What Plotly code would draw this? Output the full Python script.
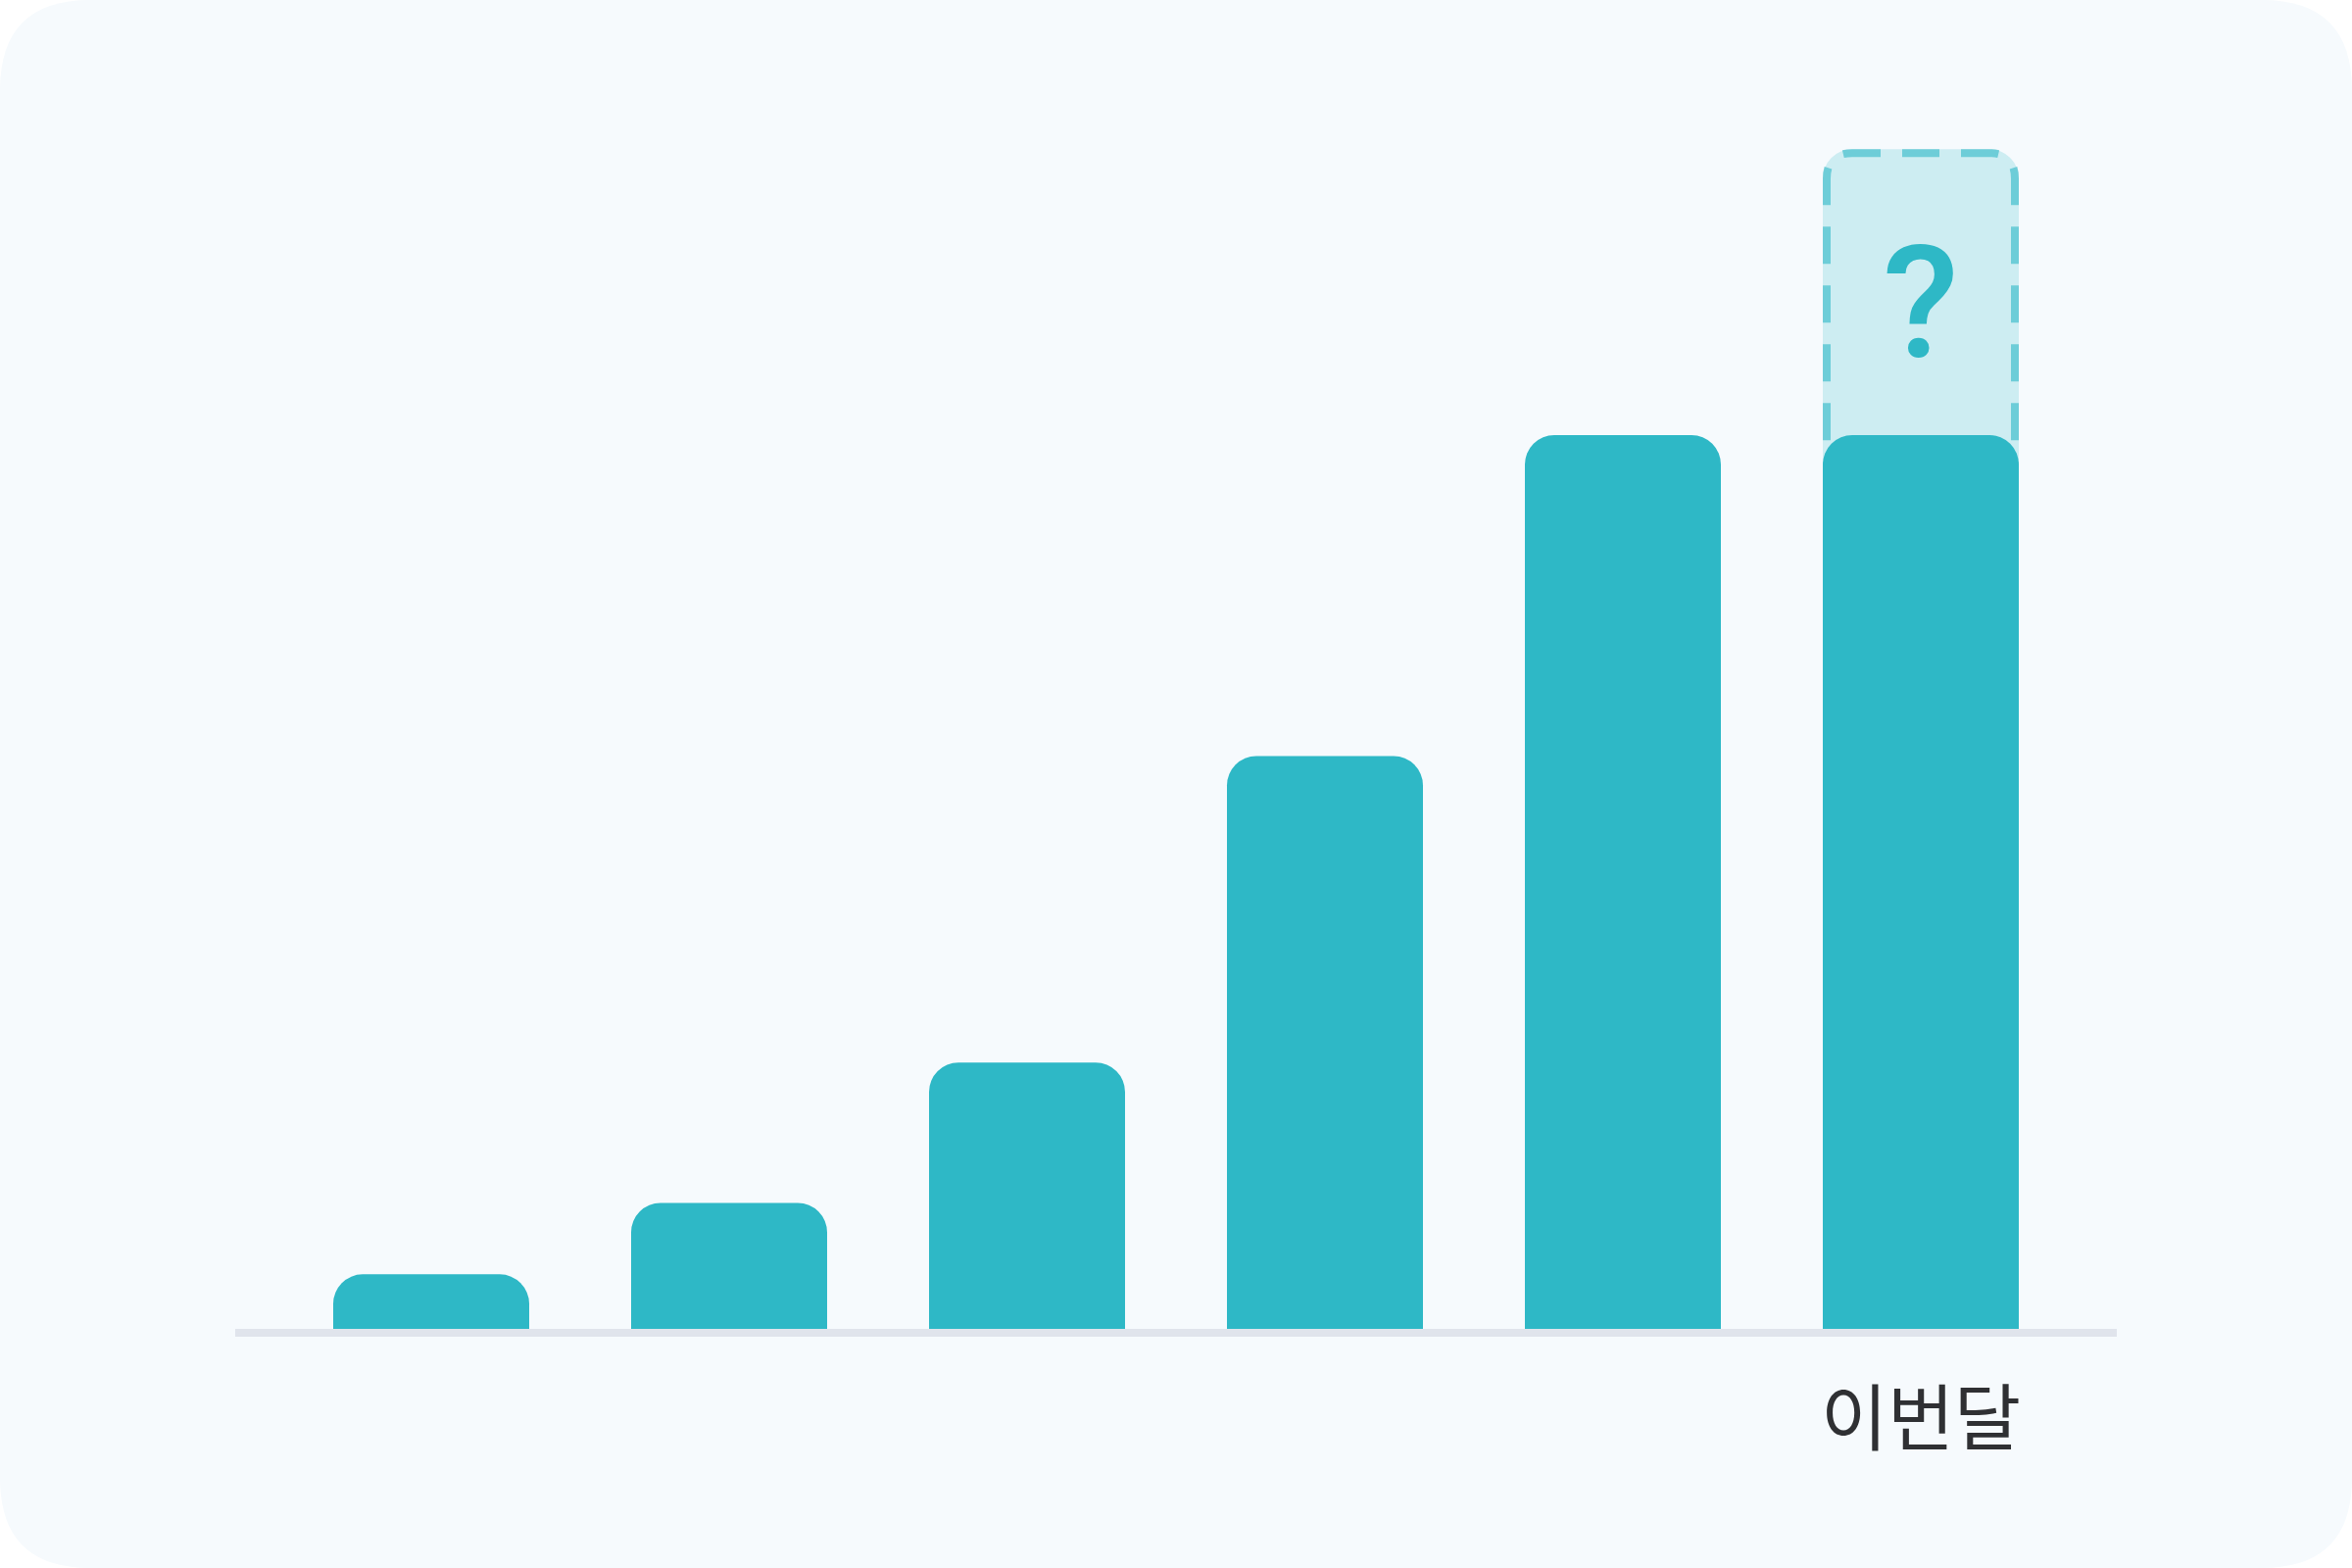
import plotly.graph_objects as go

# monthly values, last bar = this month so far, projected = the "?" target
months = ["", "", "", "", "", "이번달"]
values = [6.1, 14.1, 29.8, 64.1, 100, 100]
projected = 132

W, H = 2400, 1600
PLOT_L, PLOT_R = 240, 2160
PLOT_B, BASE_PX, PLOT_T = 1372, 1356, 100
FIRST_C, LAST_C = 440, 1960      # pixel centres of first / last bar
PX_PER_UNIT = 9.12
BAR_PX = 200
CARD_R = 92

BAR_COLOR = "#2EB8C6"
GHOST_FILL = "rgba(46,184,198,0.2)"
GHOST_LINE = "#7DD2DC"
CARD = "#F6FAFD"
AXIS = "#E0E4EC"

n = len(values)
step = (LAST_C - FIRST_C) / (n - 1)
bar_w = BAR_PX / step
x = list(range(n))
x_range = [(PLOT_L - FIRST_C) / step, (n - 1) + (PLOT_R - LAST_C) / step]
y_lo = -(PLOT_B - BASE_PX) / PX_PER_UNIT
y_hi = (BASE_PX - PLOT_T) / PX_PER_UNIT
pw, ph = PLOT_R - PLOT_L, PLOT_B - PLOT_T


def half_outline(xc, xe, y0, y1, rx, ry):
    # from the top centre out to one side, round the corner and down
    sgn = 1 if xe > xc else -1
    return (f"M{xc},{y1} L{xe - sgn * rx},{y1} Q{xe},{y1} {xe},{y1 - ry} "
            f"L{xe},{y0}")


def card_path():
    x0, x1 = -PLOT_L / pw, 1 + (W - PLOT_R) / pw
    y0, y1 = -(H - PLOT_B) / ph, 1 + PLOT_T / ph
    rx, ry = CARD_R / pw, CARD_R / ph
    return (f"M{x0 + rx},{y0} L{x1 - rx},{y0} Q{x1},{y0} {x1},{y0 + ry} "
            f"L{x1},{y1 - ry} Q{x1},{y1} {x1 - rx},{y1} L{x0 + rx},{y1} "
            f"Q{x0},{y1} {x0},{y1 - ry} L{x0},{y0 + ry} Q{x0},{y0} {x0 + rx},{y0} Z")


fig = go.Figure()

# ghost (projected) bar on the base axes
fig.add_trace(go.Bar(
    x=[x[-1]], y=[projected], width=bar_w, xaxis="x", yaxis="y",
    marker=dict(color=GHOST_FILL, line=dict(width=0), cornerradius=30),
    hoverinfo="skip",
))
# real bars on overlaid axes so the ghost doesn't steal the rounded top
fig.add_trace(go.Bar(
    x=x, y=values, width=bar_w, xaxis="x2", yaxis="y2",
    marker=dict(color=BAR_COLOR, line=dict(width=0), cornerradius=30),
    hoverinfo="skip",
))

ix = 4 / step
iy = 4 / PX_PER_UNIT
gx0 = x[-1] - bar_w / 2 + ix
gx1 = x[-1] + bar_w / 2 - ix
dash_style = dict(color=GHOST_LINE, width=8, dash="19px,22px,38px,22px,19px,0px")
shapes = [
    dict(type="path", xref="paper", yref="paper", layer="below",
         path=card_path(), fillcolor=CARD, line=dict(width=0)),
    dict(type="line", xref="paper", yref="y", layer="below",
         x0=0, x1=1, y0=-4 / PX_PER_UNIT, y1=-4 / PX_PER_UNIT,
         line=dict(color=AXIS, width=8)),
]
for edge in (gx0, gx1):
    shapes.append(dict(
        type="path", xref="x", yref="y", layer="below",
        path=half_outline(x[-1], edge, values[-1] / 2, projected - iy, 26 / step, 26 / PX_PER_UNIT),
        fillcolor="rgba(0,0,0,0)", line=dash_style))

fig.add_annotation(
    x=x[-1], y=(values[-1] + projected) / 2, xref="x", yref="y",
    text="?", showarrow=False, yshift=-11,
    font=dict(family="Roboto", size=160, color=BAR_COLOR, weight=500),
)

fig.update_layout(
    width=W, height=H,
    margin=dict(l=PLOT_L, r=W - PLOT_R, t=PLOT_T, b=H - PLOT_B),
    paper_bgcolor="white", plot_bgcolor="rgba(0,0,0,0)",
    barmode="overlay", showlegend=False, shapes=shapes,
    xaxis=dict(range=x_range, tickvals=x, ticktext=months, showgrid=False,
               zeroline=False, showline=False, ticks="",
               ticklabelstandoff=27,
               tickfont=dict(family="Noto Sans CJK KR", size=74, color="#2F3033")),
    yaxis=dict(range=[y_lo, y_hi], visible=False, showgrid=False, zeroline=False),
    xaxis2=dict(range=x_range, overlaying="x", visible=False),
    yaxis2=dict(range=[y_lo, y_hi], overlaying="y", visible=False),
)

fig.write_html("out.html", config={"displayModeBar": False},
               post_script="document.body.style.margin='0';")
